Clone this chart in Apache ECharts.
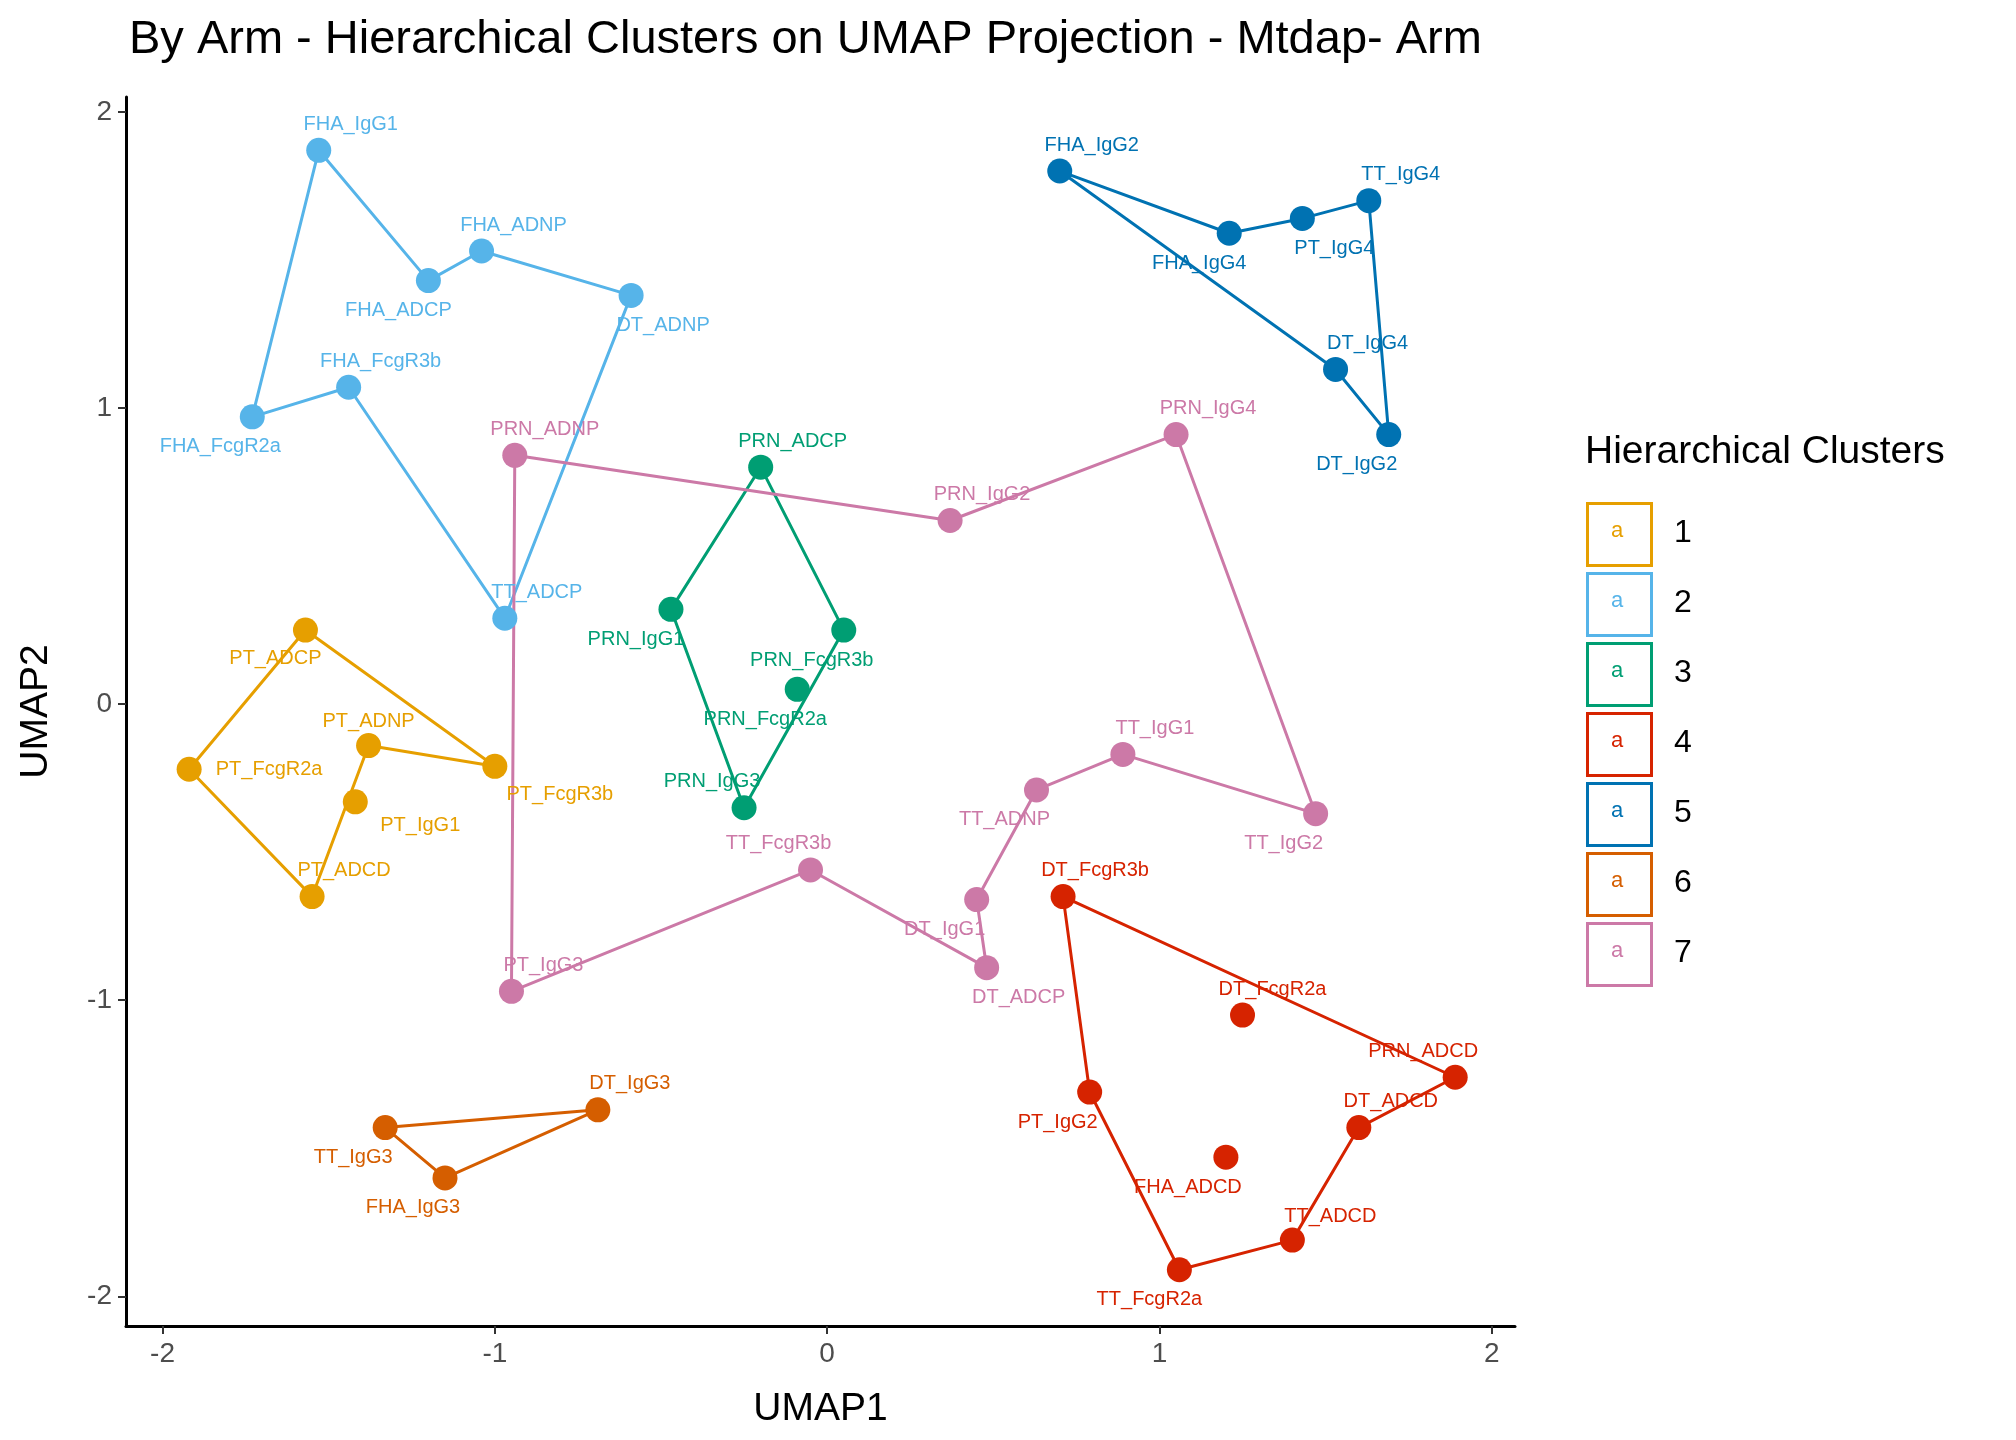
<!DOCTYPE html>
<html>
<head>
<meta charset="utf-8">
<script src="https://cdn.jsdelivr.net/npm/echarts@6/dist/echarts.min.js"></script>
<style>html,body{margin:0;background:#fff}#main{width:2016px;height:1440px}</style>
</head>
<body>
<div id="main"></div>
<script>
var clusterNames = ['1', '2', '3', '4', '5', '6', '7'];
var clusterColors = ['#E69F00', '#56B4E9', '#009E73', '#D62300', '#0072B2', '#D55E00', '#CC79A7'];

// [name, UMAP1, UMAP2] per cluster
var cluster1 = [['PT_ADCP', -1.57, 0.25], ['PT_ADNP', -1.38, -0.14], ['PT_FcgR2a', -1.92, -0.22],
    ['PT_FcgR3b', -1.00, -0.21], ['PT_IgG1', -1.42, -0.33], ['PT_ADCD', -1.55, -0.65]];
var cluster2 = [['FHA_IgG1', -1.53, 1.87], ['FHA_ADCP', -1.20, 1.43], ['FHA_ADNP', -1.04, 1.53],
    ['DT_ADNP', -0.59, 1.38], ['FHA_FcgR3b', -1.44, 1.07], ['FHA_FcgR2a', -1.73, 0.97], ['TT_ADCP', -0.97, 0.29]];
var cluster3 = [['PRN_ADCP', -0.20, 0.80], ['PRN_FcgR3b', 0.05, 0.25], ['PRN_FcgR2a', -0.09, 0.05],
    ['PRN_IgG1', -0.47, 0.32], ['PRN_IgG3', -0.25, -0.35]];
var cluster4 = [['DT_FcgR3b', 0.71, -0.65], ['DT_FcgR2a', 1.25, -1.05], ['PRN_ADCD', 1.89, -1.26],
    ['DT_ADCD', 1.60, -1.43], ['PT_IgG2', 0.79, -1.31], ['FHA_ADCD', 1.20, -1.53],
    ['TT_ADCD', 1.40, -1.81], ['TT_FcgR2a', 1.06, -1.91]];
var cluster5 = [['FHA_IgG2', 0.70, 1.80], ['FHA_IgG4', 1.21, 1.59], ['PT_IgG4', 1.43, 1.64],
    ['TT_IgG4', 1.63, 1.70], ['DT_IgG4', 1.53, 1.13], ['DT_IgG2', 1.69, 0.91]];
var cluster6 = [['DT_IgG3', -0.69, -1.37], ['TT_IgG3', -1.33, -1.43], ['FHA_IgG3', -1.15, -1.60]];
var cluster7 = [['PRN_ADNP', -0.94, 0.84], ['PRN_IgG2', 0.37, 0.62], ['PRN_IgG4', 1.05, 0.91],
    ['TT_IgG2', 1.47, -0.37], ['TT_IgG1', 0.89, -0.17], ['TT_ADNP', 0.63, -0.29],
    ['DT_IgG1', 0.45, -0.66], ['DT_ADCP', 0.48, -0.89], ['TT_FcgR3b', -0.05, -0.56], ['PT_IgG3', -0.95, -0.97]];
var clusters = [cluster1, cluster2, cluster3, cluster4, cluster5, cluster6, cluster7];

// outline order (point names)
var outlines = [
    ['PT_ADCP', 'PT_FcgR3b', 'PT_ADNP', 'PT_ADCD', 'PT_FcgR2a', 'PT_ADCP'],
    ['FHA_IgG1', 'FHA_ADCP', 'FHA_ADNP', 'DT_ADNP', 'TT_ADCP', 'FHA_FcgR3b', 'FHA_FcgR2a', 'FHA_IgG1'],
    ['PRN_ADCP', 'PRN_FcgR3b', 'PRN_IgG3', 'PRN_IgG1', 'PRN_ADCP'],
    ['DT_FcgR3b', 'PRN_ADCD', 'DT_ADCD', 'TT_ADCD', 'TT_FcgR2a', 'PT_IgG2', 'DT_FcgR3b'],
    ['FHA_IgG2', 'FHA_IgG4', 'PT_IgG4', 'TT_IgG4', 'DT_IgG2', 'DT_IgG4', 'FHA_IgG2'],
    ['DT_IgG3', 'TT_IgG3', 'FHA_IgG3', 'DT_IgG3'],
    ['PRN_ADNP', 'PRN_IgG2', 'PRN_IgG4', 'TT_IgG2', 'TT_IgG1', 'TT_ADNP', 'DT_IgG1', 'DT_ADCP', 'TT_FcgR3b', 'PT_IgG3', 'PRN_ADNP']
];

var tickValues = [-2, -1, 0, 1, 2];

// label offsets [dx, dy] (repel-like placement)
var labelOffset = {
    PT_ADCP: [-30, 28], PT_ADNP: [0, -24], PT_FcgR2a: [80, 0], PT_FcgR3b: [65, 28], PT_IgG1: [65, 24], PT_ADCD: [32, -26],
    FHA_IgG1: [32, -26], FHA_ADCP: [-30, 30], FHA_ADNP: [32, -26], DT_ADNP: [32, 30], FHA_FcgR3b: [32, -26],
    FHA_FcgR2a: [-32, 30], TT_ADCP: [32, -26],
    PRN_ADCP: [32, -26], PRN_FcgR3b: [-32, 30], PRN_FcgR2a: [-32, 30], PRN_IgG1: [-35, 30], PRN_IgG3: [-32, -26],
    DT_FcgR3b: [32, -26], DT_FcgR2a: [30, -26], PRN_ADCD: [-32, -26], DT_ADCD: [32, -26], PT_IgG2: [-32, 30],
    FHA_ADCD: [-38, 30], TT_ADCD: [38, -24], TT_FcgR2a: [-30, 30],
    FHA_IgG2: [32, -26], FHA_IgG4: [-30, 30], PT_IgG4: [32, 30], TT_IgG4: [32, -26], DT_IgG4: [32, -26], DT_IgG2: [-32, 30],
    DT_IgG3: [32, -26], TT_IgG3: [-32, 30], FHA_IgG3: [-32, 30],
    PRN_ADNP: [30, -26], PRN_IgG2: [32, -26], PRN_IgG4: [32, -26], TT_IgG2: [-32, 30], TT_IgG1: [32, -26],
    TT_ADNP: [-32, 30], DT_IgG1: [-32, 30], DT_ADCP: [32, 30], TT_FcgR3b: [-32, -26], PT_IgG3: [32, -26]
};

var series = [];
clusters.forEach(function (pts, i) {
    var lookup = {};
    pts.forEach(function (p) { lookup[p[0]] = [p[1], p[2]]; });
    series.push({
        name: clusterNames[i], type: 'line', silent: true, symbol: 'none',
        data: outlines[i].map(function (n) { return lookup[n]; }),
        lineStyle: { color: clusterColors[i], width: 3 }, z: 2
    });
    series.push({
        name: clusterNames[i], type: 'scatter', symbolSize: 25,
        itemStyle: { color: clusterColors[i], opacity: 1 },
        data: pts.map(function (p) {
            var o = labelOffset[p[0]] || [0, -26];
            return { name: p[0], value: [p[1], p[2]], label: { offset: o } };
        }),
        label: {
            show: true, position: 'inside', formatter: '{b}', color: clusterColors[i],
            fontSize: 20, fontFamily: 'Liberation Sans'
        }, z: 3
    });
});

// legend keys: outlined boxes with an "a"
var legendGraphic = [{
    type: 'text', left: 1585, top: 433,
    style: { text: 'Hierarchical Clusters', fontSize: 39, fill: '#000', fontFamily: 'Liberation Sans' }
}];
clusterNames.forEach(function (n, i) {
    var top = 502 + i * 70;
    legendGraphic.push({
        type: 'rect', left: 1586, top: top,
        shape: { width: 64, height: 62 },
        style: { fill: '#fff', stroke: clusterColors[i], lineWidth: 3 }
    });
    legendGraphic.push({
        type: 'text', left: 1611, top: top + 18,
        style: { text: 'a', fontSize: 22, fill: clusterColors[i], fontFamily: 'Liberation Sans' }
    });
    legendGraphic.push({
        type: 'text', left: 1674, top: top + 15,
        style: { text: n, fontSize: 32, fill: '#000', fontFamily: 'Liberation Sans' }
    });
});

var myChart = echarts.init(document.getElementById('main'));
var option = {
    backgroundColor: '#fff',
    animation: false,
    textStyle: { fontFamily: 'Liberation Sans' },
    title: {
        text: 'By Arm - Hierarchical Clusters on UMAP Projection - Mtdap- Arm',
        left: 124, top: 12,
        textStyle: { fontSize: 47, fontWeight: 'normal', color: '#000' }
    },
    legend: { show: false },
    graphic: legendGraphic,
    grid: { left: 126, right: 501, top: 97, bottom: 114 },
    xAxis: {
        type: 'value', min: -2.11, max: 2.07,
        name: 'UMAP1', nameLocation: 'middle', nameGap: 64,
        nameTextStyle: { fontSize: 39, color: '#000' },
        splitLine: { show: false },
        axisLine: { onZero: false, lineStyle: { color: '#000', width: 3 } },
        axisTick: { show: true, customValues: tickValues, length: 8, lineStyle: { color: '#333', width: 2 } },
        axisLabel: { customValues: tickValues, fontSize: 28, color: '#4d4d4d', margin: 14 }
    },
    yAxis: {
        type: 'value', min: -2.1, max: 2.05,
        name: 'UMAP2', nameLocation: 'middle', nameGap: 70,
        nameTextStyle: { fontSize: 39, color: '#000' },
        splitLine: { show: false },
        axisLine: { show: true, onZero: false, lineStyle: { color: '#000', width: 3 } },
        axisTick: { show: true, customValues: tickValues, length: 8, lineStyle: { color: '#333', width: 2 } },
        axisLabel: { customValues: tickValues, fontSize: 28, color: '#4d4d4d', margin: 14 }
    },
    series: series
};
myChart.setOption(option);
</script>
</body>
</html>
